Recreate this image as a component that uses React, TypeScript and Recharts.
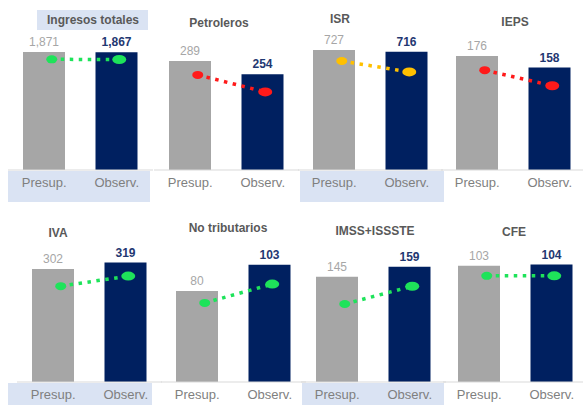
import React from 'react';
import { ComposedChart, Bar, Line, XAxis, YAxis, Cell, LabelList } from 'recharts';

const categories = ['Presup.', 'Observ.'];
const panelTitles = ['Ingresos totales', 'Petroleros', 'ISR', 'IEPS', 'IVA', 'No tributarios', 'IMSS+ISSSTE', 'CFE'];
const presupValues = [1871, 289, 727, 176, 302, 80, 145, 103];
const observValues = [1867, 254, 716, 158, 319, 103, 159, 104];
// dotted trend marker, read in the same units as the bars
const trendStart = [1755, 252, 660, 154, 256, 69.5, 107.5, 94];
const trendEnd = [1752, 207, 594, 130, 283, 86, 132, 94];
const axisMax = [2220, 371, 848, 216, 374, 123, 193, 124];

const GREEN = '#1ee35a';
const RED = '#ff1a1a';
const YELLOW = '#ffc000';
const trendColors = [GREEN, RED, YELLOW, RED, GREEN, GREEN, GREEN, GREEN];

const GRAY = '#a6a6a6';
const NAVY = '#002060';
const BAND = '#dae3f3';
const FONT = '"Liberation Sans", Arial, sans-serif';

// panel placement on the page
const panelBoxes = [
  { left: 8, top: 0, height: 200, marginTop: 30, axisHeight: 30 },
  { left: 153.5, top: 0, height: 200, marginTop: 30, axisHeight: 30 },
  { left: 297.5, top: 0, height: 200, marginTop: 30, axisHeight: 30 },
  { left: 441, top: 0, height: 200, marginTop: 30, axisHeight: 30 },
  { left: 16.5, top: 200, height: 205, marginTop: 42, axisHeight: 23 },
  { left: 160.5, top: 200, height: 205, marginTop: 42, axisHeight: 23 },
  { left: 300.5, top: 200, height: 205, marginTop: 42, axisHeight: 23 },
  { left: 442.5, top: 200, height: 205, marginTop: 42, axisHeight: 23 },
];

const titleSpots = [
  { x: 93, y: 20 },
  { x: 219, y: 23 },
  { x: 340, y: 19 },
  { x: 515, y: 22 },
  { x: 58, y: 233 },
  { x: 228, y: 228 },
  { x: 375, y: 231 },
  { x: 514, y: 232 },
];

const bands = [
  { left: 8, top: 171, width: 142, height: 31 },
  { left: 300, top: 171, width: 144, height: 31 },
  { left: 8, top: 383, width: 144, height: 22 },
  { left: 302, top: 383, width: 142, height: 22 },
];

const fmt = (v: number) => v.toLocaleString('en-US');

const Panel = ({ i }: { i: number }) => {
  const box = panelBoxes[i];
  const color = trendColors[i];
  const rows = categories.map((name, k) => ({
    name,
    value: k === 0 ? presupValues[i] : observValues[i],
    trend: k === 0 ? trendStart[i] : trendEnd[i],
  }));

  return (
    <div style={{ position: 'absolute', left: box.left, top: box.top }}>
      <ComposedChart
        width={145}
        height={box.height}
        data={rows}
        margin={{ top: box.marginTop, right: 0, bottom: 0, left: 0 }}
      >
        <XAxis
          xAxisId="bars"
          dataKey="name"
          interval={0}
          height={box.axisHeight}
          axisLine={{ stroke: '#d9d9d9' }}
          tickLine={false}
          tick={{ fill: '#7f7f7f', fontSize: 13, fontFamily: FONT }}
        />
        <XAxis xAxisId="dots" dataKey="name" hide padding={{ left: 10, right: 0 }} />
        <YAxis hide domain={[0, axisMax[i]]} />
        <Bar xAxisId="bars" dataKey="value" barSize={42} isAnimationActive={false}>
          {rows.map((_r, k) => (
            <Cell key={`c-${k}`} fill={k === 0 ? GRAY : NAVY} />
          ))}
          <LabelList
            dataKey="value"
            content={(p: any) => (
              <text
                x={p.x + p.width / 2}
                y={p.y - 6}
                textAnchor="middle"
                fontSize={12}
                fontFamily={FONT}
                fontWeight={p.index === 0 ? 'normal' : 'bold'}
                fill={p.index === 0 ? '#a6a6a6' : '#1f3872'}
              >
                {fmt(p.value)}
              </text>
            )}
          />
        </Bar>
        <Line
          xAxisId="dots"
          dataKey="trend"
          type="linear"
          stroke={color}
          strokeWidth={3.5}
          strokeDasharray="3.5 5.5"
          isAnimationActive={false}
          dot={(p: any) => (
            <ellipse
              key={`d-${p.index}`}
              cx={p.cx}
              cy={p.cy}
              rx={p.index === 0 ? 5.5 : 7}
              ry={p.index === 0 ? 4 : 4.5}
              fill={color}
            />
          )}
          activeDot={false}
        />
      </ComposedChart>
    </div>
  );
};

export default function App() {
  return (
    <div
      style={{
        position: 'absolute',
        left: 0,
        top: 0,
        width: 583,
        height: 405,
        overflow: 'hidden',
        background: '#fff',
        fontFamily: FONT,
      }}
    >
      {bands.map((b, k) => (
        <div key={`b-${k}`} style={{ position: 'absolute', background: BAND, ...b }} />
      ))}
      <div style={{ position: 'absolute', left: 37, top: 10, width: 111, height: 20, background: BAND }} />
      {panelTitles.map((_t, i) => (
        <Panel key={`p-${i}`} i={i} />
      ))}
      {panelTitles.map((t, i) => (
        <div
          key={`t-${i}`}
          style={{
            position: 'absolute',
            left: titleSpots[i].x,
            top: titleSpots[i].y,
            transform: 'translate(-50%, -50%)',
            fontSize: 12,
            fontWeight: 'bold',
            color: '#595959',
            whiteSpace: 'nowrap',
          }}
        >
          {t}
        </div>
      ))}
    </div>
  );
}
